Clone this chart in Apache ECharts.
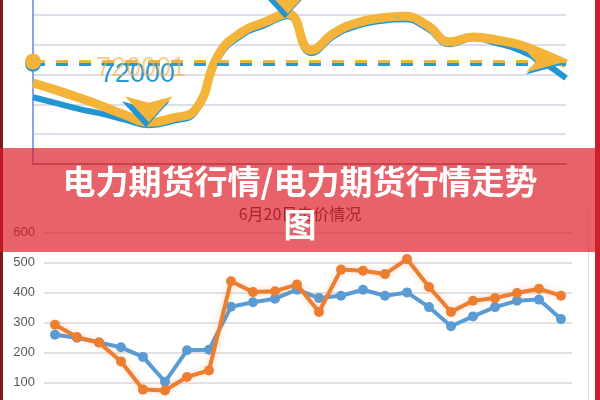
<!DOCTYPE html>
<html><head><meta charset="utf-8">
<script src="https://cdn.jsdelivr.net/npm/echarts@6/dist/echarts.min.js"></script>
<style>html,body{margin:0;padding:0;background:#fff}#c{width:600px;height:400px}</style>
</head><body><div id="c"></div>
<script>
// top (blurred) chart
const topCategories = ['1','2','3','4','5','6','7','8','9','10','11','12','13','14','15','16','17','18','19','20','21','22','23','24'];
const topYellow = [68600,67400,66100,64700,63200,62000,62700,64100,73300,77100,78800,80200,74100,77000,78700,79500,79800,78300,75500,76300,75800,75000,73500,71800];
const topBlue   = [66200,65200,64200,63400,62400,61500,62200,63700,72800,76600,78300,79800,73600,76500,78200,79000,79300,77800,75100,76100,75300,74100,72100,69400];
const avgYellow = 72200, avgBlue = 71800;
const avgLabelBlue = '72000', avgLabelYellow = '720001';
// bottom chart
const hours = ['0时','1时','2时','3时','4时','5时','6时','7时','8时','9时','10时','11时','12时','13时','14时','15时','16时','17时','18时','19时','20时','21时','22时','23时'];
const priceBlue   = [260,250,234,218,186,103,208,210,353,368,380,410,382,390,410,390,401,352,288,321,352,373,377,312];
const priceOrange = [293,252,234,171,77,74,119,141,438,402,405,427,336,477,473,462,512,419,336,373,382,399,413,390];
const bottomTitle = '6月20日电价情况';
const bannerText = '电力期货行情/电力期货行情走势\n图';

const chart = echarts.init(document.getElementById('c'), null, {renderer:'canvas'});
const YEL = '#f4b43a', BLU = '#2196d3';
const arrowPoint = (color, off) => ({
  symbol:'arrow', symbolSize:[36,26], symbolRotate:180, symbolOffset:off,
  itemStyle:{color:color}, label:{show:false}, silent:true,
  data:[{type:'max'},{type:'min'}]
});
chart.setOption({
  animation:false,
  title:{text:bottomTitle, left:'center', top:201,
    textStyle:{fontSize:16, fontWeight:'normal', color:'#404040', fontFamily:'Noto Sans CJK SC'}},
  grid:[
    {left:33, right:34, top:-14.8, height:178.8, outerBoundsMode:'none', containLabel:false},
    {left:44, right:28, top:232.7, height:180, outerBoundsMode:'none', containLabel:false}
  ],
  xAxis:[
    {gridIndex:0, type:'category', data:topCategories, boundaryGap:false,
     axisLine:{lineStyle:{color:'#9a9aae', width:2}}, axisTick:{show:false}, axisLabel:{show:false}},
    {gridIndex:1, type:'category', data:hours, boundaryGap:true,
     axisLine:{show:false}, axisTick:{show:false}, axisLabel:{show:false}}
  ],
  yAxis:[
    {gridIndex:0, type:'value', min:55000, max:85000, interval:5000,
     axisLine:{show:true, lineStyle:{color:'#86a6ea', width:2}}, axisTick:{show:false}, axisLabel:{show:false},
     splitLine:{lineStyle:{color:'#dcdee9', width:2}}},
    {gridIndex:1, type:'value', min:0, max:600, interval:100,
     axisLine:{show:false}, axisTick:{show:false},
     axisLabel:{color:'#595959', fontSize:13, margin:9, fontFamily:'Liberation Sans'},
     splitLine:{lineStyle:{color:'#d9d9d9', width:1.5}}}
  ],
  series:[
    {type:'line', xAxisIndex:0, yAxisIndex:0, data:topBlue, smooth:true, symbol:'none', z:2,
     lineStyle:{color:BLU, width:6},
     markLine:{silent:true, z:5, symbol:['circle','arrow'], symbolSize:[16,40],
       lineStyle:{type:[12,11], color:'#2a9ad6', width:3},
       label:{formatter:avgLabelBlue, position:'insideStartBottom', distance:[67,-3],
         color:'#2a98d2', fontSize:27, fontFamily:'Liberation Sans'},
       data:[{yAxis:avgBlue}]},
     markPoint:arrowPoint(BLU,[-3,2])},
    {type:'line', xAxisIndex:0, yAxisIndex:0, data:topYellow, smooth:true, symbol:'none', z:3,
     lineStyle:{color:YEL, width:9},
     markLine:{silent:true, z:6, symbol:['circle','arrow'], symbolSize:[16,40],
       lineStyle:{type:[12,11], color:YEL, width:3},
       label:{formatter:avgLabelYellow, position:'insideStartBottom', distance:[63,-6],
         color:'rgba(240,176,69,0.6)', fontSize:27, fontFamily:'Liberation Sans'},
       itemStyle:{color:YEL},
       data:[{yAxis:avgYellow}]},
     markPoint:arrowPoint(YEL,[0,0])},
    {type:'line', xAxisIndex:1, yAxisIndex:1, data:priceBlue, symbol:'circle', symbolSize:10, z:4,
     lineStyle:{color:'#5b9bd5', width:4}, itemStyle:{color:'#5b9bd5'}},
    {type:'line', xAxisIndex:1, yAxisIndex:1, data:priceOrange, symbol:'circle', symbolSize:10, z:5,
     lineStyle:{color:'#ed7d31', width:4, shadowColor:'rgba(237,125,49,0.35)', shadowBlur:6},
     itemStyle:{color:'#ed7d31'}}
  ],
  graphic:[
    {type:'rect', z:99, shape:{x:0, y:0, width:3, height:400}, style:{fill:'#7a1c1c'}},
    {type:'rect', z:99, shape:{x:588, y:205, width:1, height:195}, style:{fill:'#dcdcdc'}},
    {type:'rect', z:100, shape:{x:0, y:148, width:600, height:104}, style:{fill:'rgba(221,21,33,0.67)'}},
    {type:'rect', z:102, shape:{x:595, y:0, width:5, height:400}, style:{fill:'#cc1f29'}},
    {type:'text', z:103, style:{text:bannerText, x:300, y:159.5, textAlign:'center', textVerticalAlign:'top',
      lineHeight:43, font:'bold 33px "Noto Sans CJK SC"', fill:'#ffffff',
      shadowColor:'rgba(0,0,0,0.25)', shadowBlur:2}}
  ]
});
</script></body></html>
